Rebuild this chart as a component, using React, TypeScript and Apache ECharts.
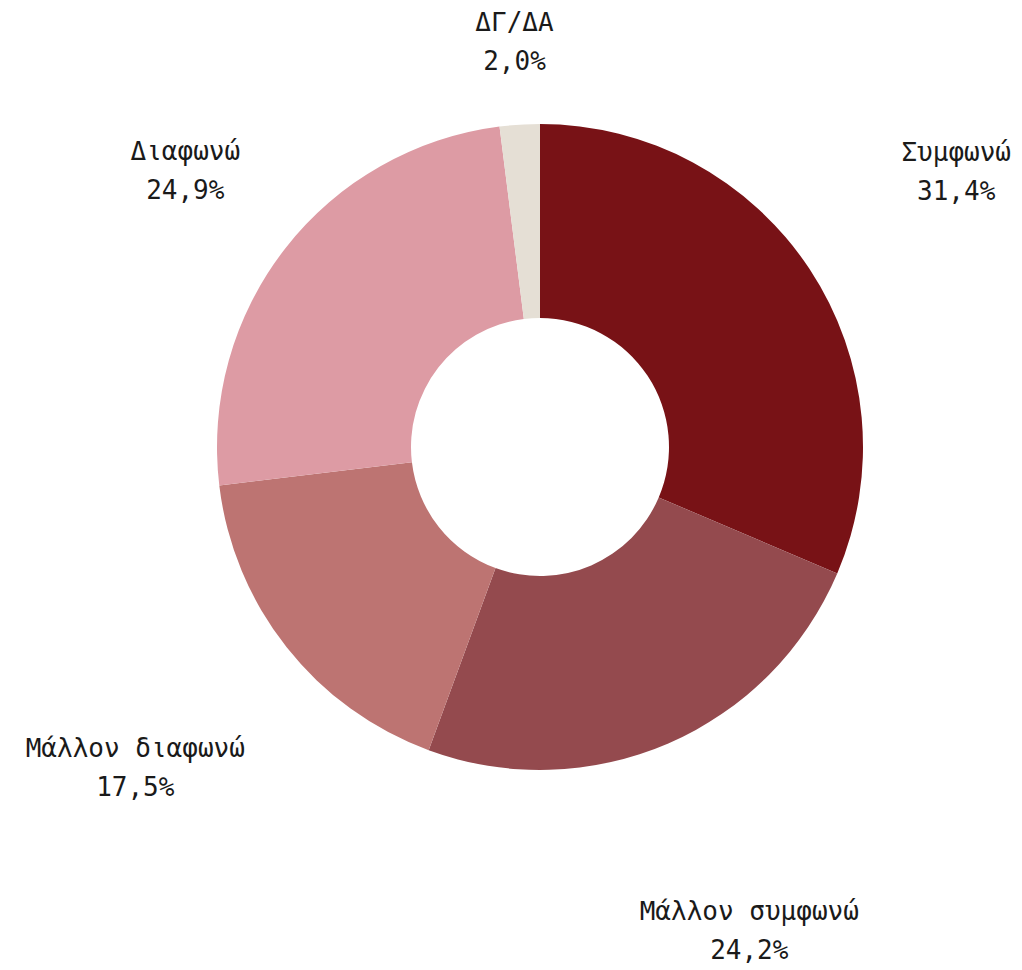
import React, { useEffect, useRef } from "react";
import * as echarts from "echarts";

const categories = ["Συμφωνώ", "Μάλλον συμφωνώ", "Μάλλον διαφωνώ", "Διαφωνώ", "ΔΓ/ΔΑ"];
const values = [31.4, 24.2, 17.5, 24.9, 2.0];
const colors = ["#781216", "#944a4e", "#bd7472", "#dd9ba4", "#e5dfd5"];
// radial distance of each label's centre beyond the outer edge
const labelGaps = [176, 204, 193, 127, 83];

export default function App() {
  const ref = useRef<HTMLDivElement>(null);
  useEffect(() => {
    if (!ref.current) return;
    const chart = echarts.init(ref.current, null, { renderer: "svg" });
    const fmt = (v: number) => v.toFixed(1).replace(".", ",") + "%";
    chart.setOption({
      animation: false,
      backgroundColor: "#ffffff",
      series: [
        {
          type: "pie",
          center: [540, 447],
          radius: [129, 323],
          startAngle: 90,
          clockwise: true,
          avoidLabelOverlap: false,
          itemStyle: { borderWidth: 0 },
          label: {
            show: true,
            position: "outside",
            distanceToLabelLine: 0,
            fontFamily: "DejaVu Sans Mono",
            fontSize: 26,
            lineHeight: 39,
            color: "#1a1a1a",
            formatter: (p: any) => `${p.name}\n${fmt(p.value)}`,
          },
          labelLine: { show: false, length2: 0 },
          labelLayout: (p: any) => {
            const r = p.labelRect;
            let x = r.x + r.width / 2;
            if (p.align === "left") x = r.x;
            else if (p.align === "right") x = r.x + r.width;
            return { x, align: "center" };
          },
          emphasis: { disabled: true },
          data: categories.map((name, i) => ({
            name,
            value: values[i],
            itemStyle: { color: colors[i] },
            labelLine: { show: false, length: labelGaps[i], length2: 0 },
          })),
        },
      ],
    });
    return () => chart.dispose();
  }, []);
  return (
    <div
      ref={ref}
      style={{ position: "absolute", left: 0, top: 0, width: 1022, height: 970 }}
    />
  );
}
